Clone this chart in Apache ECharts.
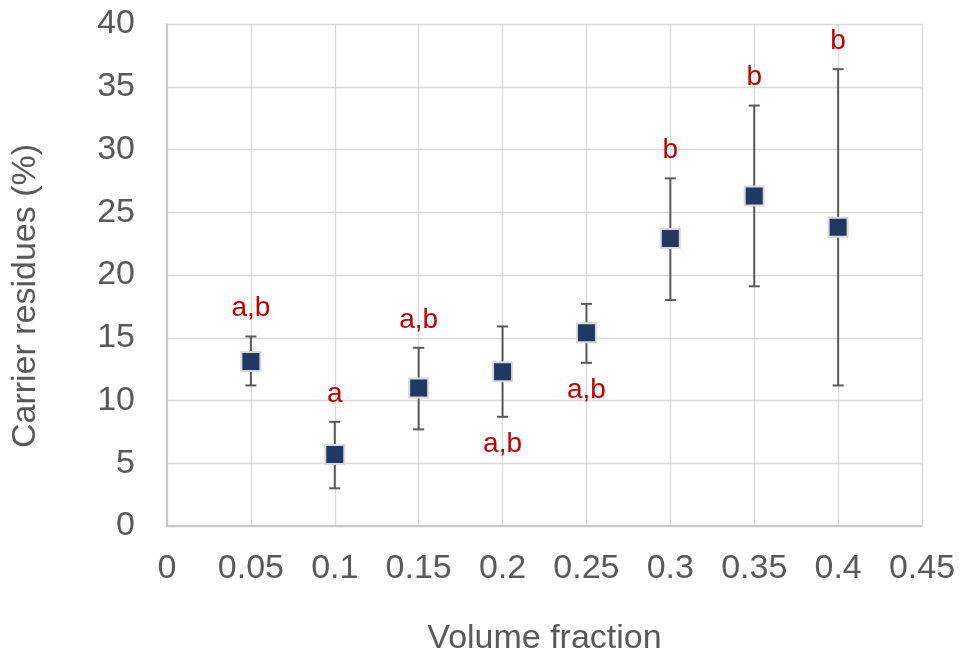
<!DOCTYPE html>
<html>
<head>
<meta charset="utf-8">
<script src="https://cdn.jsdelivr.net/npm/echarts@6/dist/echarts.min.js"></script>
<style>
  html, body { margin: 0; padding: 0; background: #fff; }
  #chart { width: 962px; height: 667px; }
</style>
</head>
<body>
<div id="chart"></div>
<script>
// Volume fraction of carrier vs. measured carrier residue, mean ± error
const volumeFraction = [0.05, 0.10, 0.15, 0.20, 0.25, 0.30, 0.35, 0.40];
const residueMean    = [13.1, 5.7, 11.0, 12.3, 15.4, 22.9, 26.3, 23.8];
const errorHigh      = [15.1, 8.3, 14.2, 15.9, 17.7, 27.7, 33.5, 36.4];
const errorLow       = [11.2, 3.0, 7.7, 8.7, 13.0, 18.0, 19.1, 11.2];
// Significance groups, and whether each letter sits above or below its bar
const groupLetters   = ['a,b', 'a', 'a,b', 'a,b', 'a,b', 'b', 'b', 'b'];
const letterSide     = ['above', 'above', 'above', 'below', 'below', 'above', 'above', 'above'];
const xTicks         = [0, 0.05, 0.1, 0.15, 0.2, 0.25, 0.3, 0.35, 0.4, 0.45];
const yTicks         = [0, 5, 10, 15, 20, 25, 30, 35, 40];

const FONT = '"Liberation Sans", Arial, sans-serif';
const TEXT_GREY = '#595959';

const meanPoints = volumeFraction.map((x, i) => [x, residueMean[i]]);
const errorRows = volumeFraction.map((x, i) => [x, errorLow[i], errorHigh[i], i]);

const chart = echarts.init(document.getElementById('chart'), null, { renderer: 'canvas' });

chart.setOption({
  animation: false,
  backgroundColor: '#ffffff',
  grid: { left: 167, right: 40, top: 24, bottom: 141 },
  xAxis: {
    type: 'value',
    min: xTicks[0],
    max: xTicks[xTicks.length - 1],
    interval: 0.05,
    name: 'Volume fraction',
    nameLocation: 'middle',
    nameGap: 96,
    nameTextStyle: { color: TEXT_GREY, fontSize: 34, fontFamily: FONT },
    axisLine: { show: true, lineStyle: { color: '#bfbfbf', width: 1.5 } },
    axisTick: { show: false },
    axisLabel: {
      color: TEXT_GREY, fontSize: 34, fontFamily: FONT, margin: 26,
      formatter: v => String(parseFloat(v.toFixed(2)))
    },
    splitLine: { show: true, lineStyle: { color: '#d9d9d9', width: 1.3 } }
  },
  yAxis: {
    type: 'value',
    min: yTicks[0],
    max: yTicks[yTicks.length - 1],
    interval: 5,
    axisLine: { show: true, lineStyle: { color: '#bfbfbf', width: 1.5 } },
    axisTick: { show: false },
    axisLabel: { color: TEXT_GREY, fontSize: 34, fontFamily: FONT, margin: 32 },
    splitLine: { show: true, lineStyle: { color: '#d9d9d9', width: 1.3 } }
  },
  graphic: [{
    type: 'text',
    x: 26,
    y: 296,
    rotation: Math.PI / 2,
    style: {
      text: 'Carrier residues (%)',
      fill: TEXT_GREY,
      font: '34px ' + FONT,
      align: 'center',
      verticalAlign: 'middle'
    }
  }],
  series: [
    {
      // error bars with caps, plus the group letters beside them
      type: 'custom',
      z: 2,
      data: errorRows,
      renderItem: function (params, api) {
        const x = api.value(0);
        const lo = api.coord([x, api.value(1)]);
        const hi = api.coord([x, api.value(2)]);
        const idx = api.value(3);
        const cap = 5.5;
        const lineStyle = { stroke: '#595959', lineWidth: 2 };
        const above = letterSide[idx] === 'above';
        const anchor = above ? hi : lo;
        return {
          type: 'group',
          children: [
            { type: 'line', shape: { x1: lo[0], y1: lo[1], x2: hi[0], y2: hi[1] }, style: lineStyle },
            { type: 'line', shape: { x1: hi[0] - cap, y1: hi[1], x2: hi[0] + cap, y2: hi[1] }, style: lineStyle },
            { type: 'line', shape: { x1: lo[0] - cap, y1: lo[1], x2: lo[0] + cap, y2: lo[1] }, style: lineStyle },
            {
              type: 'text',
              x: anchor[0],
              y: anchor[1] + (above ? -28 : 27),
              style: {
                text: groupLetters[idx],
                fill: '#c00000',
                font: '28px ' + FONT,
                align: 'center',
                verticalAlign: 'middle'
              }
            }
          ]
        };
      }
    },
    {
      type: 'scatter',
      z: 3,
      data: meanPoints,
      symbol: 'rect',
      symbolSize: 19,
      itemStyle: { color: '#203864', borderColor: '#d9d9d9', borderWidth: 2, opacity: 1 }
    }
  ]
});
</script>
</body>
</html>
